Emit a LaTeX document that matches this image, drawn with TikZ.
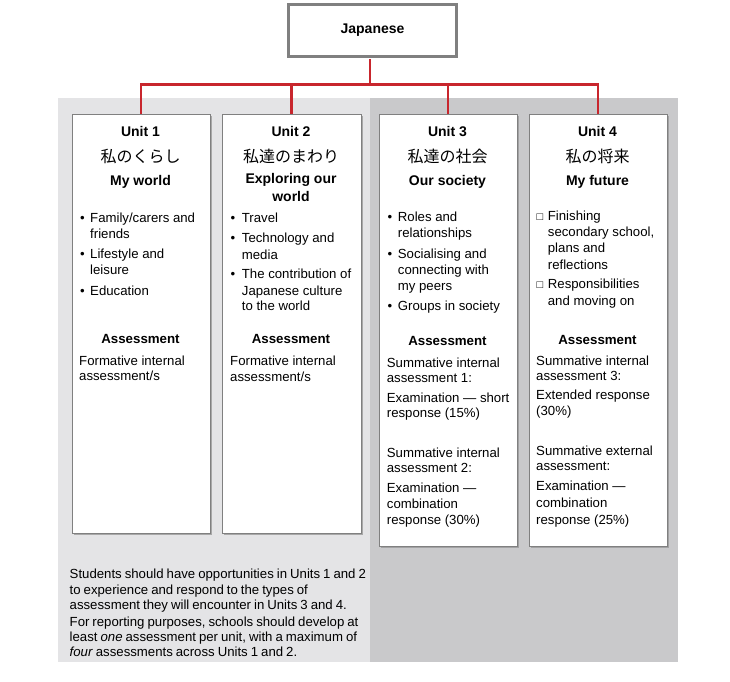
\documentclass[tikz,border=0pt]{standalone}
\usepackage{fontspec}
\setmainfont{Liberation Sans}
\newfontfamily\jpfont{Noto Sans CJK JP}
\usetikzlibrary{shadows}
\definecolor{bglight}{RGB}{228,228,230}
\definecolor{bgdark}{RGB}{201,201,203}
\definecolor{busred}{RGB}{200,38,45}
\definecolor{boxline}{RGB}{128,128,128}
\newcommand\myNoteFont{\fontsize{13.2}{16}\selectfont\spaceskip=3pt\relax}
\tikzset{
  titlebox/.style={draw=boxline, line width=2.7pt, fill=white, minimum width=168.3pt, minimum height=52.3pt, inner sep=0pt, font=\fontsize{14}{16}\selectfont\bfseries},
  unitbox/.style={draw=boxline, line width=0.9pt, fill=white, anchor=north west, inner sep=0pt,
    drop shadow={shadow xshift=1.8pt, shadow yshift=-1.8pt, fill=black!40, opacity=0.8}},
  bus/.style={draw=busred, line width=2.8pt},
  hd/.style={anchor=base, inner sep=0pt, font=\fontsize{14}{16}\selectfont\bfseries},
  jptext/.style={anchor=base, inner sep=0pt, font=\fontsize{16}{18}\jpfont},
  asshd/.style={anchor=base, inner sep=0pt, font=\fontsize{13.3}{16}\selectfont\bfseries},
  body/.style={anchor=base west, inner sep=0pt, font=\fontsize{13.2}{16}\selectfont},
  note/.style={anchor=base west, inner sep=0pt, font=\myNoteFont},
  bul/.style={anchor=base west, inner sep=0pt, font=\fontsize{13.2}{16}\selectfont},
  sq/.style={anchor=base west, inner sep=0pt, font=\fontsize{11}{16}\selectfont},
}
\begin{document}
\begin{tikzpicture}[x=1pt,y=-1pt]
\useasboundingbox (0,0) rectangle (730,681);
% backgrounds
\fill[bglight] (58,97.5) rectangle (370,662);
\fill[bgdark] (370,97.5) rectangle (678,662);

% title
\node[titlebox] (jp) at (372.5,30.5) {Japanese};

% unit boxes
\node[unitbox, minimum width=138pt, minimum height=419.5pt] (u1) at (71.5,113.5) {};
\node[unitbox, minimum width=139pt, minimum height=419.5pt] (u2) at (221.5,113.5) {};
\node[unitbox, minimum width=138pt, minimum height=432pt] (u3) at (378.5,113.5) {};
\node[unitbox, minimum width=138pt, minimum height=432pt] (u4) at (528.5,113.5) {};

% connectors
\coordinate (busc) at (370,84.3);
\draw[bus, shorten <=1.35pt] (busc |- jp.south) -- (busc);
\draw[bus] (busc) -| (u1.north);
\draw[bus] (busc) -| (u2.north);
\draw[bus] (busc) -| (u3.north);
\draw[bus] (busc) -| (u4.north);

% ---------- Unit 1
\node[hd] (h1a) at (140.5,136) {Unit 1};
\node[jptext] (h1b) at (140.5,162) {私のくらし};
\node[hd] (h1c) at (140.5,185) {My world};
\node[bul] (b1a) at (80,222) {•};
\node[body] (t1a) at (90,222) {Family/carers and};
\node[body] (t1b) at (90,238) {friends};
\node[bul] (b1b) at (80,258) {•};
\node[body] (t1c) at (90,258) {Lifestyle and};
\node[body] (t1d) at (90,274.5) {leisure};
\node[bul] (b1c) at (80,295) {•};
\node[body] (t1e) at (90,295) {Education};
\node[asshd] (a1) at (140.5,343) {Assessment};
\node[body] (f1a) at (79,365) {Formative internal};
\node[body] (f1b) at (79,380.5) {assessment/s};

% ---------- Unit 2
\node[hd] (h2a) at (291,136) {Unit 2};
\node[jptext] (h2b) at (291,162) {私達のまわり};
\node[hd] (h2c) at (291,183) {Exploring our};
\node[hd] (h2d) at (291,201.5) {world};
\node[bul] (b2a) at (230.5,222.7) {•};
\node[body] (t2a) at (241.7,222.7) {Travel};
\node[bul] (b2b) at (230.5,242.7) {•};
\node[body] (t2b) at (241.7,242.7) {Technology and};
\node[body] (t2c) at (241.7,259) {media};
\node[bul] (b2c) at (230.5,278) {•};
\node[body] (t2d) at (241.7,278) {The contribution of};
\node[body] (t2e) at (241.7,295) {Japanese culture};
\node[body] (t2f) at (241.7,310.7) {to the world};
\node[asshd] (a2) at (291,343.3) {Assessment};
\node[body] (f2a) at (230,365.7) {Formative internal};
\node[body] (f2b) at (230,381) {assessment/s};

% ---------- Unit 3
\node[hd] (h3a) at (447.5,136) {Unit 3};
\node[jptext] (h3b) at (447.5,162) {私達の社会};
\node[hd] (h3c) at (447.5,185) {Our society};
\node[bul] (b3a) at (387.5,221.7) {•};
\node[body] (t3a) at (397.7,221.7) {Roles and};
\node[body] (t3b) at (397.7,237.7) {relationships};
\node[bul] (b3b) at (387.5,258.3) {•};
\node[body] (t3c) at (397.7,258.3) {Socialising and};
\node[body] (t3d) at (397.7,274) {connecting with};
\node[body] (t3e) at (397.7,290) {my peers};
\node[bul] (b3c) at (387.5,310.7) {•};
\node[body] (t3f) at (397.7,310.7) {Groups in society};
\node[asshd] (a3) at (447.5,345) {Assessment};
\node[body] (s3a) at (386.7,367.7) {Summative internal};
\node[body] (s3b) at (386.7,382.5) {assessment 1:};
\node[body] (s3c) at (386.7,402) {Examination — short};
\node[body] (s3d) at (386.7,417) {response (15\%)};
\node[body] (s3e) at (386.7,457.3) {Summative internal};
\node[body] (s3f) at (386.7,472) {assessment 2:};
\node[body] (s3g) at (386.7,492) {Examination —};
\node[body] (s3h) at (386.7,508) {combination};
\node[body] (s3i) at (386.7,524) {response (30\%)};

% ---------- Unit 4
\node[hd] (h4a) at (597.5,136) {Unit 4};
\node[jptext] (h4b) at (597.5,162) {私の将来};
\node[hd] (h4c) at (597.5,185) {My future};
\node[sq] (q4a) at (536.5,220.7) {□};
\node[body] (t4a) at (547.7,220.7) {Finishing};
\node[body] (t4b) at (547.7,236.7) {secondary school,};
\node[body] (t4c) at (547.7,252.7) {plans and};
\node[body] (t4d) at (547.7,269) {reflections};
\node[sq] (q4b) at (536.5,288.3) {□};
\node[body] (t4e) at (547.7,288.3) {Responsibilities};
\node[body] (t4f) at (547.7,305) {and moving on};
\node[asshd] (a4) at (597.5,344.3) {Assessment};
\node[body] (s4a) at (536,365) {Summative internal};
\node[body] (s4b) at (536,380.5) {assessment 3:};
\node[body] (s4c) at (536,399.5) {Extended response};
\node[body] (s4d) at (536,415) {(30\%)};
\node[body] (s4e) at (536,455) {Summative external};
\node[body] (s4f) at (536,470.5) {assessment:};
\node[body] (s4g) at (536,490.7) {Examination —};
\node[body] (s4h) at (536,507.7) {combination};
\node[body] (s4i) at (536,524) {response (25\%)};

% ---------- note
\node[note] (n1) at (69.5,578.3) {Students should have opportunities in Units 1 and 2};
\node[note] (n2) at (69.5,594) {to experience and respond to the types of};
\node[note] (n3) at (69.5,609.3) {assessment they will encounter in Units 3 and 4.};
\node[note] (n4) at (69.5,626) {For reporting purposes, schools should develop at};
\node[note] (n5) at (69.5,641.7) {least \textit{one} assessment per unit, with a maximum of};
\node[note] (n6) at (69.5,656.7) {\textit{four} assessments across Units 1 and 2.};
\end{tikzpicture}
\end{document}
